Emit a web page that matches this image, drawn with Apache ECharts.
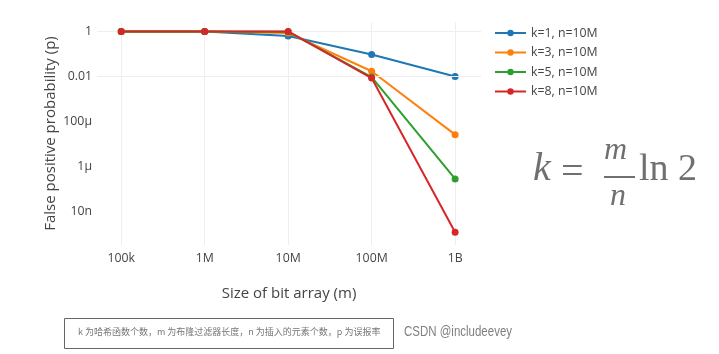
<!DOCTYPE html>
<html>
<head>
<meta charset="utf-8">
<script src="https://cdn.jsdelivr.net/npm/echarts@6/dist/echarts.min.js"></script>
<style>
html,body{margin:0;padding:0;background:#fff;}
#chart{width:719px;height:354px;}
</style>
</head>
<body>
<div id="chart"></div>
<script>
// Data
var bitArraySizes = [1e5, 1e6, 1e7, 1e8, 1e9];
var xTickLabels = ['100k', '1M', '10M', '100M', '1B'];
var yTickValues = [1, 0.01, 1e-4, 1e-6, 1e-8];
var yTickLabels = ['1', '0.01', '100μ', '1μ', '10n'];
var seriesNames = ['k=1, n=10M', 'k=3, n=10M', 'k=5, n=10M', 'k=8, n=10M'];
var k1 = [1, 1, 0.63, 0.095, 0.01];
var k3 = [1, 1, 0.86, 0.017, 2.6e-5];
var k5 = [1, 1, 0.97, 0.0094, 2.8e-7];
var k8 = [1, 1, 1.0, 0.0085, 1.2e-9];
var colors = ['#1f77b4', '#ff7f0e', '#2ca02c', '#d62728'];

var allValues = [k1, k3, k5, k8];

function labelFor(v, values, labels) {
  var lv = Math.log10(v);
  for (var i = 0; i < values.length; i++) {
    if (Math.abs(Math.log10(values[i]) - lv) < 1e-6) return labels[i];
  }
  return '';
}

var chart = echarts.init(document.getElementById('chart'), null, {renderer: 'canvas'});
var font = '"Open Sans", sans-serif';

var series = seriesNames.map(function (name, si) {
  return {
    name: name,
    type: 'line',
    data: bitArraySizes.map(function (x, i) { return [x, allValues[si][i]]; }),
    symbol: 'circle',
    symbolSize: 7,
    lineStyle: {width: 2, color: colors[si]},
    itemStyle: {color: colors[si]},
    z: 2 + si
  };
});

// horizontal grid lines at the labelled y ticks, drawn on the axis scale
series.push({
  name: 'ygrid',
  type: 'line',
  data: [],
  silent: true,
  z: 0,
  markLine: {
    silent: true,
    symbol: 'none',
    label: {show: false},
    lineStyle: {color: '#eeeeee', width: 1, type: 'solid'},
    emphasis: {disabled: true},
    data: yTickValues.map(function (v) { return {yAxis: v}; })
  }
});

chart.setOption({
  animation: false,
  color: colors,
  textStyle: {fontFamily: font},
  grid: {left: 97, right: 238, top: 22, bottom: 109, containLabel: false},
  legend: {
    orient: 'vertical',
    left: 494,
    top: 27,
    padding: 0,
    itemWidth: 31,
    itemHeight: 8,
    itemGap: 7.5,
    textStyle: {fontSize: 12.3, color: '#444', fontFamily: font},
    data: seriesNames
  },
  xAxis: {
    type: 'log',
    logBase: 10,
    min: Math.pow(10, 4.71),
    max: Math.pow(10, 9.31),
    name: 'Size of bit array (m)',
    nameLocation: 'middle',
    nameGap: 41,
    nameMoveOverlap: false,
    nameTextStyle: {fontSize: 15, color: '#444', fontFamily: font},
    axisLine: {show: false},
    axisTick: {show: false},
    axisLabel: {
      margin: 7, fontSize: 12.3, color: '#444', fontFamily: font,
      showMinLabel: false, showMaxLabel: false,
      formatter: function (v) { return labelFor(v, bitArraySizes, xTickLabels); }
    },
    splitLine: {show: true, showMinLine: false, showMaxLine: false, lineStyle: {color: '#eeeeee', width: 1}}
  },
  yAxis: {
    type: 'log',
    logBase: 10,
    min: Math.pow(10, -9.49),
    max: Math.pow(10, 0.42),
    name: 'False positive probability (p)',
    nameLocation: 'middle',
    nameGap: 39,
    nameMoveOverlap: false,
    nameTextStyle: {fontSize: 15, color: '#444', fontFamily: font},
    axisLine: {show: false},
    axisTick: {show: false},
    axisLabel: {
      margin: 5, fontSize: 12.3, color: '#444', fontFamily: font,
      showMinLabel: false, showMaxLabel: false,
      formatter: function (v) { return labelFor(v, yTickValues, yTickLabels); }
    },
    splitLine: {show: false}
  },
  series: series,
  graphic: [
    {type: 'text', left: 533, top: 149, style: {text: 'k', font: 'italic 40px "Liberation Serif", serif', fill: '#707070'}},
    {type: 'text', left: 561, top: 153, style: {text: '=', font: '40px "Liberation Serif", serif', fill: '#707070'}},
    {type: 'text', left: 604, top: 135, style: {text: 'm', font: 'italic 32px "Liberation Serif", serif', fill: '#707070'}},
    {type: 'rect', shape: {x: 604, y: 176, width: 31, height: 2}, style: {fill: '#707070'}},
    {type: 'text', left: 610, top: 181, style: {text: 'n', font: 'italic 32px "Liberation Serif", serif', fill: '#707070'}},
    {type: 'text', left: 639, top: 151, style: {text: 'ln 2', font: '38px "Liberation Serif", serif', fill: '#707070'}},
    {type: 'rect', shape: {x: 64.5, y: 318.5, width: 329, height: 30}, style: {fill: 'none', stroke: '#666', lineWidth: 1}},
    {type: 'text', left: 78, top: 327, style: {text: 'k 为哈希函数个数，m 为布隆过滤器长度，n 为插入的元素个数，p 为误报率', font: '9px "Noto Sans CJK SC", sans-serif', fill: '#777'}},
    {type: 'text', left: 404, top: 325, scaleX: 0.82, style: {text: 'CSDN @includeevey', font: '14px "Liberation Sans", sans-serif', fill: '#808080'}}
  ]
});
</script>
</body>
</html>
